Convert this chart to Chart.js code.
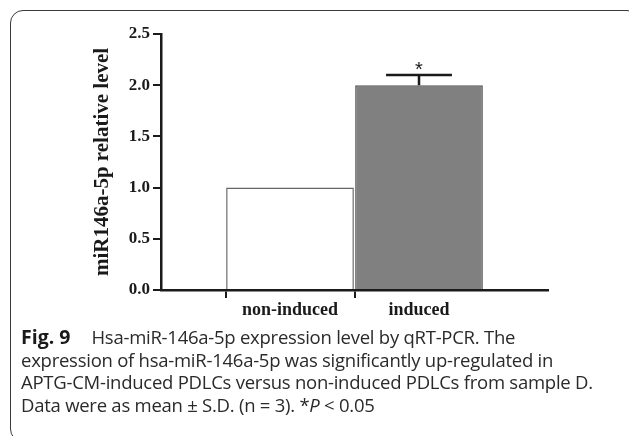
<!DOCTYPE html>
<html>
<head>
<meta charset="utf-8">
<script src="https://cdn.jsdelivr.net/npm/chart.js@4"></script>
<style>
  html, body { margin: 0; padding: 0; background: #fff; }
  body { width: 629px; height: 436px; position: relative; overflow: hidden; }
  #frame {
    position: absolute; left: 10px; top: 10px; width: 630px; height: 432px;
    border: 1.3px solid #3a3a3a; border-radius: 13px; box-sizing: border-box;
  }
  #wrap { position: absolute; left: 0; top: 0; width: 629px; height: 325px; }
  #caption {
    position: absolute; left: 21px; top: 326px;
    font-family: "Open Sans", sans-serif; font-size: 18.5px; line-height: 22.6px;
    letter-spacing: -0.25px; color: #2a2a2a; white-space: nowrap;
  }
  #caption b { font-weight: 700; font-size: 19.5px; letter-spacing: 0; color: #1a1a1a; margin-right: 21px; }
</style>
</head>
<body>
<div id="frame"></div>
<div id="wrap"><canvas id="myChart"></canvas></div>
<div id="caption">
  <b>Fig. 9</b>Hsa-miR-146a-5p expression level by qRT-PCR. The<br>
  expression of hsa-miR-146a-5p was significantly up-regulated in<br>
  APTG-CM-induced PDLCs versus non-induced PDLCs from sample D.<br>
  Data were as mean &plusmn; S.D. (n = 3). *<i>P</i> &lt; 0.05
</div>
<script>
// data
const categories = ['', 'non-induced', 'induced', ''];
const meanValues = [null, 1.0, 2.0, null];
const sdValues = [null, 0, 0.1, null];
const significance = ['', '', '*', ''];
const yTicks = [0, 0.5, 1.0, 1.5, 2.0, 2.5];
const barFills = ['#ffffff', '#ffffff', '#808080', '#ffffff'];

const serif = 'Liberation Serif';

// error bars + asterisk on top of the bars
const errorBars = {
  id: 'errorBars',
  afterDatasetsDraw(chart) {
    const ctx = chart.ctx;
    const y = chart.scales.y;
    const meta = chart.getDatasetMeta(0);
    ctx.save();
    meta.data.forEach((bar, i) => {
      if (meanValues[i] == null) return;
      const sd = sdValues[i];
      const base = y.getPixelForValue(meanValues[i]);
      const top = y.getPixelForValue(meanValues[i] + sd);
      if (sd) {
        const half = bar.width * 0.258;
        ctx.strokeStyle = '#1a1a1a';
        ctx.lineWidth = 2.5;
        ctx.beginPath();
        ctx.moveTo(bar.x, base);
        ctx.lineTo(bar.x, top);
        ctx.moveTo(bar.x - half, top);
        ctx.lineTo(bar.x + half, top);
        ctx.stroke();
      }
      if (significance[i]) {
        ctx.fillStyle = '#1a1a1a';
        ctx.font = '20px "Liberation Sans"';
        ctx.textAlign = 'center';
        ctx.textBaseline = 'alphabetic';
        ctx.fillText(significance[i], bar.x, top + 1);
      }
    });
    ctx.restore();
  }
};

const graphArea = document.getElementById('myChart').getContext('2d');
const myChart = new Chart(graphArea, {
  type: 'bar',
  data: {
    labels: categories,
    datasets: [{
      data: meanValues,
      backgroundColor: barFills,
      borderColor: ['#666', '#666', '#555', '#666'],
      borderWidth: 1.5,
      categoryPercentage: 1,
      barPercentage: 0.99
    }]
  },
  options: {
    responsive: true,
    maintainAspectRatio: false,
    animation: false,
    layout: { padding: { top: 34, right: 81, left: 0, bottom: 0 } },
    plugins: { legend: { display: false }, tooltip: { enabled: false } },
    scales: {
      x: {
        offset: false,
        grid: {
          drawOnChartArea: false,
          tickLength: 8,
          lineWidth: 2,
          tickColor: (c) => (c.index === 1 || c.index === 2) ? '#1a1a1a' : 'rgba(0,0,0,0)'
        },
        border: { color: '#1a1a1a', width: 2.5 },
        ticks: {
          color: '#1a1a1a',
          padding: 2,
          maxRotation: 0,
          autoSkip: false,
          font: { family: serif, weight: 'bold', size: 18 }
        },
        afterFit: (scale) => { scale.height = 35; }
      },
      y: {
        min: 0,
        max: 2.5,
        afterBuildTicks: (scale) => { scale.ticks = yTicks.map(v => ({ value: v })); },
        grid: { drawOnChartArea: false, tickLength: 8, lineWidth: 2, color: '#1a1a1a' },
        border: { color: '#1a1a1a', width: 2.5 },
        ticks: {
          color: '#1a1a1a',
          padding: 3,
          callback: (v) => Number(v).toFixed(1),
          font: { family: serif, weight: 'bold', size: 17 }
        },
        title: {
          display: true,
          text: 'miR146a-5p relative level',
          color: '#1a1a1a',
          padding: { top: 90, bottom: 0 },
          font: { family: serif, weight: 'bold', size: 21 }
        },
        afterFit: (scale) => { scale.width = 161; }
      }
    }
  },
  plugins: [errorBars]
});
</script>
</body>
</html>
